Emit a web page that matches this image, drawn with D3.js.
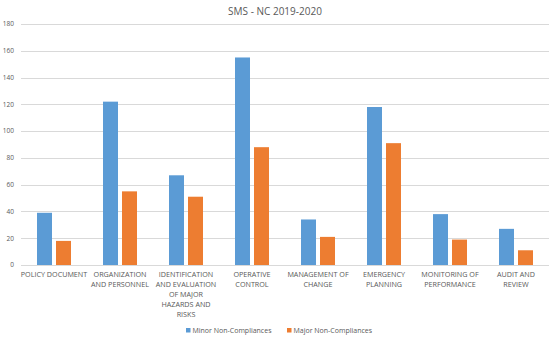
<!DOCTYPE html>
<html>
<head>
<meta charset="utf-8">
<script src="https://cdn.jsdelivr.net/npm/d3@7"></script>
<style>
  body { margin: 0; background: #fff; }
  text { font-family: "Open Sans", "Liberation Sans", sans-serif; fill: #595959; }
</style>
</head>
<body>
<script>
var categories = [
  "POLICY DOCUMENT",
  "ORGANIZATION\nAND PERSONNEL",
  "IDENTIFICATION\nAND EVALUATION\nOF MAJOR\nHAZARDS AND\nRISKS",
  "OPERATIVE\nCONTROL",
  "MANAGEMENT OF\nCHANGE",
  "EMERGENCY\nPLANNING",
  "MONITORING OF\nPERFORMANCE",
  "AUDIT AND\nREVIEW"
]
var seriesNames = ["Minor Non-Compliances", "Major Non-Compliances"]
var minorValues = [39, 122, 67, 155, 34, 118, 38, 27]
var majorValues = [18, 55, 51, 88, 21, 91, 19, 11]
var yTicks = [0, 20, 40, 60, 80, 100, 120, 140, 160, 180]
var colors = ["#5B9BD5", "#ED7D31"]

var W = 550, H = 343
var margin = {top: 24, right: 1, bottom: 78, left: 21}

var svg = d3.select("body").append("svg")
  .attr("width", W)
  .attr("height", H)

// title
svg.append("text")
  .attr("x", 275)
  .attr("y", 15)
  .attr("text-anchor", "middle")
  .style("font-size", "10px")
  .text("SMS - NC 2019-2020")

var x = d3.scaleBand()
  .domain(categories)
  .range([margin.left, W - margin.right])

var y = d3.scaleLinear()
  .domain([0, 180])
  .range([H - margin.bottom, margin.top])

// grid lines
svg.append("g").selectAll("line")
  .data(yTicks)
  .enter().append("line")
  .attr("x1", margin.left)
  .attr("x2", W - margin.right)
  .attr("y1", function(d){ return Math.round(y(d)) + 0.5 })
  .attr("y2", function(d){ return Math.round(y(d)) + 0.5 })
  .attr("stroke", "#D9D9D9")
  .attr("stroke-width", 1)

// y tick labels
svg.append("g").selectAll("text")
  .data(yTicks)
  .enter().append("text")
  .attr("x", 14)
  .attr("y", function(d){ return y(d) + 2.3 })
  .attr("text-anchor", "end")
  .style("font-size", "6.5px")
  .text(function(d){ return d })

// bars
var barW = 15, gap = 4
var series = [minorValues, majorValues]
series.forEach(function(vals, s){
  svg.append("g").selectAll("rect")
    .data(vals)
    .enter().append("rect")
    .attr("x", function(d, i){
      var c = x(categories[i]) + x.bandwidth() / 2
      return s == 0 ? c - gap / 2 - barW : c + gap / 2
    })
    .attr("y", function(d){ return y(d) })
    .attr("width", barW)
    .attr("height", function(d){ return y(0) - y(d) })
    .attr("fill", colors[s])
})

// x labels
var xl = svg.append("g")
categories.forEach(function(c){
  var t = xl.append("text")
    .attr("x", x(c) + x.bandwidth() / 2)
    .attr("y", H - margin.bottom + 12)
    .attr("text-anchor", "middle")
    .style("font-size", "7.2px")
  c.split("\n").forEach(function(line, j){
    t.append("tspan")
      .attr("x", x(c) + x.bandwidth() / 2)
      .attr("dy", j == 0 ? 0 : 10)
      .text(line)
  })
})

// legend
var leg = svg.append("g")
var lx = [186, 287]
seriesNames.forEach(function(n, i){
  leg.append("rect")
    .attr("x", lx[i])
    .attr("y", 328)
    .attr("width", 4.5)
    .attr("height", 4.5)
    .attr("fill", colors[i])
  leg.append("text")
    .attr("x", lx[i] + 6.5)
    .attr("y", 333)
    .style("font-size", "7px")
    .text(n)
})
</script>
</body>
</html>
